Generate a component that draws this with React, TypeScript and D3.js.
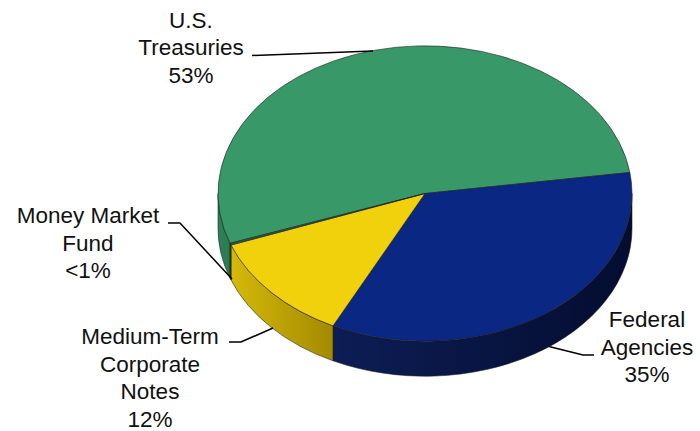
import React from 'react';
import * as d3 from 'd3';

const categories = ['U.S. Treasuries', 'Federal Agencies', 'Medium-Term Corporate Notes', 'Money Market Fund'];
const values = [53.2, 34.6, 12.0, 0.2];
const pctLabels = ['53%', '35%', '12%', '<1%'];
const nameLines = [['U.S.', 'Treasuries'], ['Federal', 'Agencies'], ['Medium-Term', 'Corporate', 'Notes'], ['Money Market', 'Fund']];

const W = 700, H = 431;
const cx = 425, cy = 193.5, rx = 207, ry = 147.7, depth = 35;
const startDeg = -109.7;

const topColors = ['#389868', '#0a2784', '#f1d10b', '#2c5e44'];
const sideColorsL = ['#2d8357', '#0d1d55', '#d5b90a', '#24503a'];
const sideColorsR = ['#2a7a50', '#040d30', '#a38a00', '#24503a'];

// label layout: center x, first baseline y, leader polyline
const labelLayout = [
  { x: 191, y: 27.5, line: [[252, 55.5], [373, 51]] },
  { x: 647, y: 327.3, line: [[594, 355], [583, 355], [549, 346.5]] },
  { x: 150, y: 344, line: [[229, 342], [241, 342], [273, 328]] },
  { x: 88, y: 223.3, line: [[168, 223], [180, 223], [232, 279]] },
];
const lineH = 27.5;

function p(a: number, dy = 0): [number, number] {
  return [cx + rx * Math.sin(a), cy - ry * Math.cos(a) + dy];
}

export default function App() {
  const pie = d3.pie<number>().sort(null)
    .startAngle((startDeg * Math.PI) / 180)
    .endAngle((startDeg * Math.PI) / 180 + 2 * Math.PI);
  const arcs = pie(values);

  const ranges = [
    [-1.5 * Math.PI, -0.5 * Math.PI],
    [0.5 * Math.PI, 1.5 * Math.PI],
    [2.5 * Math.PI, 3.5 * Math.PI],
  ];

  const sides: { d: string; i: number; x0: number; x1: number }[] = [];
  arcs.forEach((a, i) => {
    ranges.forEach(([r0, r1]) => {
      const b0 = Math.max(a.startAngle, r0);
      const b1 = Math.min(a.endAngle, r1);
      if (b1 > b0) {
        const s0 = p(b0), s1 = p(b1), e1 = p(b1, depth), e0 = p(b0, depth);
        const d = `M${s0[0]},${s0[1]} A${rx},${ry} 0 0 1 ${s1[0]},${s1[1]} L${e1[0]},${e1[1]} A${rx},${ry} 0 0 0 ${e0[0]},${e0[1]} Z`;
        sides.push({ d, i, x0: Math.min(s0[0], s1[0]), x1: Math.max(s0[0], s1[0]) });
      }
    });
  });

  const tops = arcs.map((a, i) => {
    const s0 = p(a.startAngle), s1 = p(a.endAngle);
    const large = a.endAngle - a.startAngle > Math.PI ? 1 : 0;
    return { d: `M${cx},${cy} L${s0[0]},${s0[1]} A${rx},${ry} 0 ${large} 1 ${s1[0]},${s1[1]} Z`, i };
  });

  const lineGen = d3.line();

  return (
    <svg width={W} height={H} style={{ position: 'absolute', left: 0, top: 0, background: '#fff' }}
      fontFamily="'Liberation Sans', Arial, sans-serif">
      <defs>
        {sides.map((s, k) => (
          <linearGradient key={k} id={`sg${k}`} gradientUnits="userSpaceOnUse" x1={s.x0} x2={s.x1} y1={0} y2={0}>
            <stop offset="0" stopColor={sideColorsL[s.i]} />
            <stop offset="1" stopColor={sideColorsR[s.i]} />
          </linearGradient>
        ))}
      </defs>
      <rect width={W} height={H} fill="#fff" />
      <g>
        {sides.map((s, k) => (
          <path key={k} d={s.d} fill={`url(#sg${k})`} stroke="#1a1a1a" strokeWidth={0.7} strokeOpacity={0.8} />
        ))}
        {tops.map((t) => (
          <path key={t.i} d={t.d} fill={topColors[t.i]} stroke="#1a1a1a" strokeWidth={0.7} strokeOpacity={0.8} />
        ))}
      </g>
      <g>
        {labelLayout.map((l, i) => (
          <path key={i} d={lineGen(l.line as [number, number][]) || ''} fill="none" stroke="#000" strokeWidth={1.5} />
        ))}
      </g>
      <g fontSize={22.5} fill="#111" textAnchor="middle">
        {categories.map((c, i) => {
          const lines = [...nameLines[i], pctLabels[i]];
          return (
            <text key={c} x={labelLayout[i].x} y={labelLayout[i].y}>
              {lines.map((ln, j) => (
                <tspan key={j} x={labelLayout[i].x} y={labelLayout[i].y + j * lineH}>{ln}</tspan>
              ))}
            </text>
          );
        })}
      </g>
    </svg>
  );
}
